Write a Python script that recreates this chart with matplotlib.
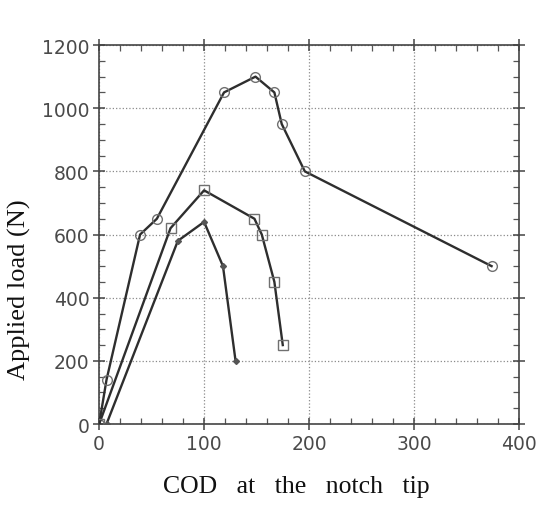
import matplotlib
matplotlib.use('Agg')
import matplotlib.pyplot as plt
from matplotlib.ticker import MultipleLocator

# curve with open circles
cod_circle = [0, 7, 39, 55, 119, 149, 167, 174, 196, 374]
load_circle = [0, 140, 600, 650, 1050, 1100, 1050, 950, 800, 500]

# curve with open squares
cod_square = [0, 68, 100, 148, 155, 167, 175]
load_square = [0, 620, 740, 650, 600, 450, 250]

# curve with small filled markers
cod_dot = [7, 75, 100, 118, 130]
load_dot = [0, 580, 640, 500, 200]

x_ticks = [0, 100, 200, 300, 400]
y_ticks = [0, 200, 400, 600, 800, 1000, 1200]

fig = plt.figure(figsize=(5.36, 5.06), dpi=100)
ax = fig.add_axes([0.185, 0.160, 0.783, 0.749])

line_col = '#2e2e2e'
mark_col = '#707070'
ax.plot(cod_circle, load_circle, color=line_col, lw=1.7, marker='o', ms=7,
        mfc='none', mec=mark_col, mew=1.0, zorder=3)
ax.plot(cod_square, load_square, color=line_col, lw=1.7, marker='s', ms=6.5,
        mfc='none', mec=mark_col, mew=1.0, zorder=3)
ax.plot(cod_dot, load_dot, color=line_col, lw=1.7, marker='D', ms=3,
        mfc='#555555', mec='#555555', zorder=3)

ax.set_xlim(0, 400)
ax.set_ylim(0, 1200)
ax.set_xticks(x_ticks)
ax.set_yticks(y_ticks)
ax.xaxis.set_minor_locator(MultipleLocator(20))
ax.yaxis.set_minor_locator(MultipleLocator(50))
ax.grid(True, which='major', color='#8a8a8a', ls=':', lw=0.9)

for s in ax.spines.values():
    s.set_color('#444444')
    s.set_linewidth(1.2)
ax.tick_params(which='major', direction='inout', length=8, width=1.1,
               top=True, right=True, color='#444444',
               labelsize=13.5, labelcolor='#4a4a4a', pad=3)
ax.tick_params(which='minor', direction='in', length=4, width=0.9,
               top=True, right=True, color='#555555')
for lab in ax.get_xticklabels() + ax.get_yticklabels():
    lab.set_family(['DejaVu Sans'])

ax.set_ylabel('Applied load (N)', family=['Liberation Serif'], fontsize=19,
              color='#111111')
ax.yaxis.set_label_coords(-0.163, 0.356)
ax.set_xlabel('COD   at   the   notch   tip', family=['Liberation Serif'],
              fontsize=18.5, color='#111111')
ax.xaxis.set_label_coords(0.469, -0.135)

fig.savefig('out.png', dpi=100)
